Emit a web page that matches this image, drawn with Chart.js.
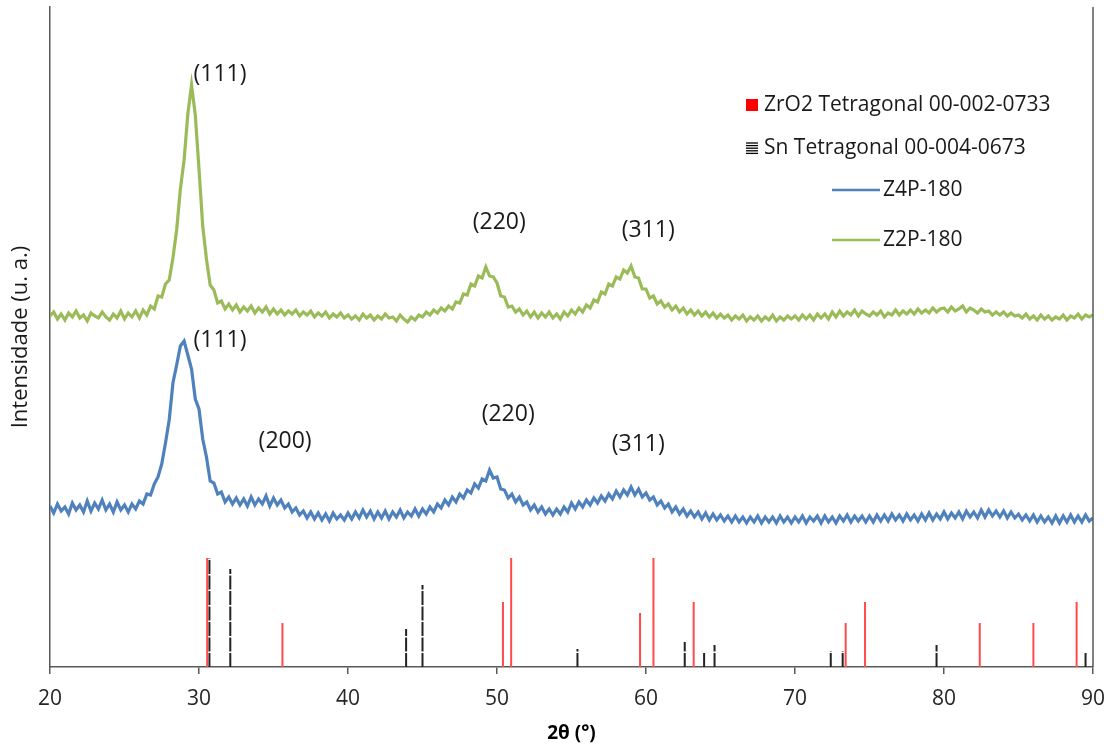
<!DOCTYPE html>
<html>
<head>
<meta charset="utf-8">
<script src="https://cdn.jsdelivr.net/npm/chart.js@4.4.1/dist/chart.umd.min.js"></script>
<style>
  html, body { margin: 0; padding: 0; background: #fff; }
  #wrap { width: 1108px; height: 745px; }
</style>
</head>
<body>
<div id="wrap"><canvas id="xrd" width="1108" height="745"></canvas></div>
<script>
// ── scan: 20° to 90°, one reading every 0.25° (arbitrary units)
const scanStart = 20, scanStep = 0.25;

const z2p180 = [
  351,355,348,353,347,354,350,356,349,352,346,354,351,349,355,350,347,353,349,356,
  348,354,350,356,349,357,352,361,358,371,370,383,387,409,437,478,507,553,582,552,
  498,441,408,382,377,364,366,358,363,357,362,355,360,356,361,354,359,355,360,353,
  358,353,357,352,356,353,357,351,355,352,356,350,354,351,355,349,353,350,354,349,
  352,348,351,347,353,349,352,347,351,348,353,349,350,346,352,348,345,350,347,352,
  350,355,352,357,354,359,356,361,358,365,364,373,372,383,381,391,389,400,391,390,
  384,371,370,360,361,355,358,352,356,350,355,349,354,350,355,349,353,348,355,351,
  357,353,359,355,362,359,367,365,375,373,383,381,390,388,397,394,401,390,389,378,
  378,369,371,363,366,360,363,357,361,355,359,353,357,352,356,351,355,350,354,349,
  353,349,352,347,351,348,352,346,350,347,351,346,350,347,352,346,350,347,351,348,
  351,347,352,348,352,347,353,349,353,348,355,350,356,351,355,352,357,351,356,353,
  351,355,352,356,350,354,352,357,352,356,353,357,353,358,354,357,354,359,355,358,
  359,355,360,356,358,361,355,359,357,354,358,355,356,352,355,352,355,351,354,351,
  352,349,353,348,351,347,352,348,351,347,350,348,352,347,351,349,353,348,352,350,
  352
];

const z4p180 = [
  161,154,163,156,160,153,164,157,162,155,166,156,164,158,167,157,163,155,165,157,
  162,155,163,158,166,163,173,172,183,190,203,224,247,284,302,321,326,312,298,268,
  258,228,210,186,184,173,175,165,170,163,169,162,168,161,170,162,168,163,171,161,
  169,162,167,159,163,155,159,152,156,149,155,148,154,147,153,146,154,148,152,147,
  154,148,155,149,157,150,156,148,155,149,156,148,155,150,157,149,155,151,158,151,
  158,153,160,155,163,159,167,162,170,165,173,169,177,174,183,179,188,186,197,189,
  190,178,177,169,173,165,170,162,165,157,162,155,160,153,158,152,158,153,160,155,
  164,158,165,160,167,162,169,164,171,166,173,168,176,170,177,172,180,172,178,170,
  174,167,170,162,166,159,163,155,160,153,158,151,156,150,155,148,154,147,153,147,
  152,146,151,145,151,145,150,144,150,145,151,144,150,145,150,144,151,145,150,144,
  150,145,151,144,150,146,151,144,151,145,150,144,151,146,152,145,151,146,151,145,
  151,145,152,146,152,146,153,147,152,146,153,147,152,146,153,147,154,147,153,148,
  155,148,154,149,155,148,156,150,155,149,157,150,157,151,156,150,156,149,155,149,
  153,147,152,146,152,145,151,145,150,144,151,144,151,145,152,145,151,145,152,146,
  149
];

// reference patterns (stick positions in 2θ and stick heights)
const zro2Pos = [30.55, 35.6, 50.4, 50.95, 59.6, 60.5, 63.2, 73.4, 74.7, 82.4, 86.0, 88.9];
const zro2Int = [109, 44, 65, 109, 54, 109, 65, 44, 65, 44, 44, 65];
const snPos = [30.7, 32.1, 43.9, 45.0, 55.4, 62.6, 63.9, 64.6, 72.4, 73.2, 79.5, 89.5];
const snInt = [109, 98, 38, 82, 18, 25, 15, 22, 16, 16, 22, 15];

const xTicks = [20, 30, 40, 50, 60, 70, 80, 90];

// peak labels (text, 2θ, height)
const peakText = ['(111)', '(220)', '(311)', '(111)', '(200)', '(220)', '(311)'];
const peakX    = [31.41, 50.15, 60.15, 31.41, 35.78, 50.75, 59.48];
const peakY    = [593, 445, 437, 327, 226, 253, 223];

const FONT = "'Open Sans', 'Noto Sans', sans-serif";
const AXIS = '#595959';

const toPoints = ys => ys.map((v, i) => ({ x: scanStart + i * scanStep, y: v }));
const toSticks = (pos, h) => pos.flatMap((p, i) => [{ x: p, y: 0 }, { x: p, y: h[i] }, { x: p, y: null }]);

// legend, right frame and peak labels
const decor = {
  id: 'decor',
  afterDraw(chart) {
    const { ctx, chartArea: a, scales: { x, y } } = chart;
    ctx.save();
    // right frame line
    ctx.strokeStyle = AXIS; ctx.lineWidth = 1.5;
    ctx.beginPath(); ctx.moveTo(a.right, a.top); ctx.lineTo(a.right, a.bottom); ctx.stroke();

    // peak labels
    ctx.fillStyle = '#1a1a1a';
    ctx.font = '23px ' + FONT;
    ctx.textAlign = 'center'; ctx.textBaseline = 'middle';
    peakText.forEach((t, i) => ctx.fillText(t, x.getPixelForValue(peakX[i]), y.getPixelForValue(peakY[i])));

    // legend
    ctx.textAlign = 'left';
    ctx.font = '21px ' + FONT;
    ctx.fillStyle = '#ff0000';
    ctx.fillRect(746, 99, 12, 12);
    ctx.fillStyle = '#1a1a1a';
    ctx.fillText('ZrO2 Tetragonal 00-002-0733', 764, 105);

    ctx.strokeStyle = '#000'; ctx.lineWidth = 1.3;
    for (let k = 0; k < 5; k++) {
      ctx.beginPath(); ctx.moveTo(746, 143 + k * 2.6); ctx.lineTo(758, 143 + k * 2.6); ctx.stroke();
    }
    ctx.fillText('Sn Tetragonal 00-004-0673', 764, 148);

    ctx.lineWidth = 2.5;
    ctx.strokeStyle = '#4F81BD';
    ctx.beginPath(); ctx.moveTo(832, 190); ctx.lineTo(880, 190); ctx.stroke();
    ctx.fillText('Z4P-180', 883, 190);
    ctx.strokeStyle = '#9BBB59';
    ctx.beginPath(); ctx.moveTo(832, 240); ctx.lineTo(880, 240); ctx.stroke();
    ctx.fillText('Z2P-180', 883, 240);
    ctx.restore();
  }
};

new Chart(document.getElementById('xrd'), {
  type: 'line',
  data: {
    datasets: [
      { label: 'ZrO2 Tetragonal 00-002-0733', data: toSticks(zro2Pos, zro2Int),
        borderColor: '#ff4b4b', borderWidth: 2, pointRadius: 0, spanGaps: false },
      { label: 'Sn Tetragonal 00-004-0673', data: toSticks(snPos, snInt),
        borderColor: '#222', borderWidth: 2, borderDash: [14, 1.5], pointRadius: 0, spanGaps: false },
      { label: 'Z4P-180', data: toPoints(z4p180),
        borderColor: '#4F81BD', borderWidth: 3.2, pointRadius: 0, tension: 0 },
      { label: 'Z2P-180', data: toPoints(z2p180),
        borderColor: '#9BBB59', borderWidth: 3.2, pointRadius: 0, tension: 0 }
    ]
  },
  options: {
    responsive: false,
    animation: false,
    layout: { padding: { top: 7, right: 15, left: 0, bottom: 0 } },
    plugins: { legend: { display: false }, tooltip: { enabled: false } },
    scales: {
      x: {
        type: 'linear', min: 20, max: 90,
        afterBuildTicks: s => { s.ticks = xTicks.map(v => ({ value: v })); },
        afterFit: s => { s.height = 78; s.paddingLeft = 0; s.paddingRight = 0; },
        grid: { drawOnChartArea: false, drawTicks: true, tickLength: 7, color: AXIS, lineWidth: 1.5 },
        border: { display: true, color: AXIS, width: 1.5 },
        ticks: { color: '#262626', padding: 12, font: { family: FONT, size: 21 } },
        title: { display: true, text: '2θ (°)', color: '#000', padding: { top: 0, bottom: 0 },
                 font: { family: FONT, size: 19, weight: 'bold' } }
      },
      y: {
        min: 0, max: 660,
        afterFit: s => { s.width = 50; },
        grid: { display: false },
        border: { display: true, color: AXIS, width: 1.5 },
        ticks: { display: false },
        title: { display: true, text: 'Intensidade (u. a.)', color: '#1a1a1a', padding: { top: 8, bottom: 0 },
                 font: { family: FONT, size: 22 } }
      }
    }
  },
  plugins: [decor]
});
</script>
</body>
</html>
